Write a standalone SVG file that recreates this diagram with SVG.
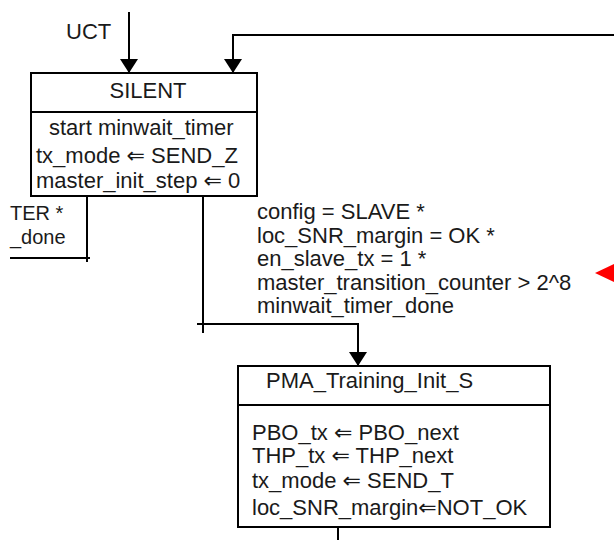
<svg xmlns="http://www.w3.org/2000/svg" width="614" height="540" viewBox="0 0 614 540">
<style>
  text { font-family: "Liberation Sans", Arial, "DejaVu Sans", sans-serif; font-size: 22px; fill: #1a1a1a; }
  .small { font-size: 20px; }
  .box { fill: #ffffff; stroke: #000000; stroke-width: 2; }
  .conn { fill: none; stroke: #000000; stroke-width: 2; }
</style>
<defs>
  <marker id="arr" viewBox="0 0 14 18" refX="14" refY="9" markerWidth="14" markerHeight="18" markerUnits="userSpaceOnUse" orient="auto">
    <path d="M0,0 L14,9 L0,18 z" fill="#000000"/>
  </marker>
</defs>
<rect width="614" height="540" fill="#ffffff"/>

<g id="connectors">
  <path class="conn" d="M129,12 V73" marker-end="url(#arr)"/>
  <path class="conn" d="M614,35 H233 V73" marker-end="url(#arr)"/>
  <path class="conn" d="M87,196 V262"/>
  <path class="conn" d="M10,258 H90"/>
  <path class="conn" d="M203,196 V333"/>
  <path class="conn" d="M197,324 H358 V366" marker-end="url(#arr)"/>
  <path class="conn" d="M338,518 V540"/>
</g>

<g id="label-uct"><text x="66" y="39">UCT</text></g>

<g id="node-silent">
  <rect class="box" x="31" y="73" width="226" height="123"/>
  <line class="conn" x1="31" y1="112" x2="257" y2="112"/>
  <text x="148" y="98" text-anchor="middle">SILENT</text>
  <text x="49" y="135">start minwait_timer</text>
  <text x="36" y="163">tx_mode ⇐ SEND_Z</text>
  <text x="36" y="188">master_init_step ⇐ 0</text>
</g>

<g id="label-left">
  <text class="small" x="10" y="220">TER *</text>
  <text class="small" x="10" y="244">_done</text>
</g>

<g id="label-conditions">
  <text x="257" y="219">config = SLAVE *</text>
  <text x="257" y="243">loc_SNR_margin = OK *</text>
  <text x="257" y="266">en_slave_tx = 1 *</text>
  <text x="257" y="290">master_transition_counter &gt; 2^8</text>
  <text x="257" y="313">minwait_timer_done</text>
</g>

<g id="node-pma">
  <rect class="box" x="238" y="366" width="312" height="161"/>
  <line class="conn" x1="238" y1="405" x2="550" y2="405"/>
  <text x="266" y="388">PMA_Training_Init_S</text>
  <text x="252" y="440">PBO_tx ⇐ PBO_next</text>
  <text x="252" y="463">THP_tx ⇐ THP_next</text>
  <text x="252" y="488">tx_mode ⇐ SEND_T</text>
  <text x="252" y="515">loc_SNR_margin⇐NOT_OK</text>
</g>

<polygon id="red-marker" points="595,273 614,264 614,282" fill="#ff0000"/>
</svg>
